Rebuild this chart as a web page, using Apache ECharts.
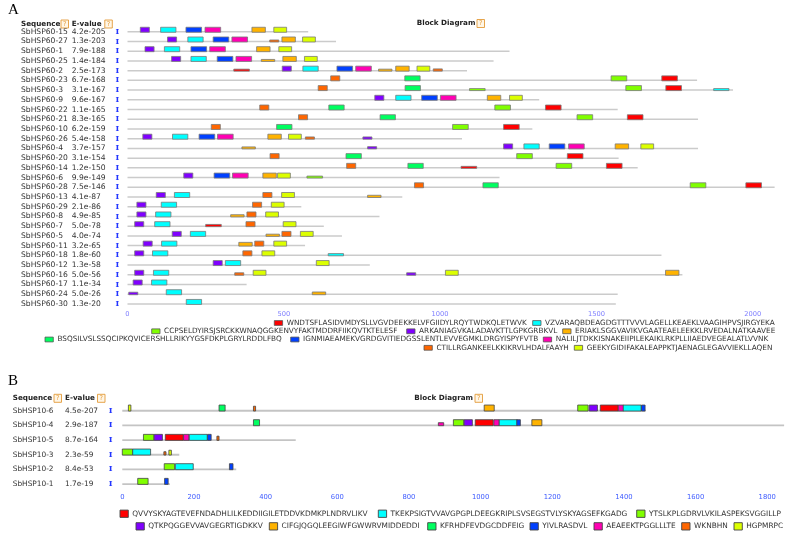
<!DOCTYPE html>
<html><head><meta charset="utf-8">
<script src="https://cdn.jsdelivr.net/npm/echarts@6/dist/echarts.min.js"></script>
<style>html,body{margin:0;padding:0;background:#fff}#c{width:787px;height:535px}</style>
</head><body><div id="c"></div>
<script>
const FONT = 'DejaVu Sans, Verdana, sans-serif';
const colors = ['#ff0000','#00ffff','#80ff00','#8000ff','#ffb300','#00ff60','#0040ff','#ff00b3','#ff6600','#dcff00'];

// ---------- Panel A ----------
const seqA = ['SbHSP60-15','SbHSP60-27','SbHSP60-1','SbHSP60-25','SbHSP60-2','SbHSP60-23','SbHSP60-3','SbHSP60-9','SbHSP60-22','SbHSP60-21','SbHSP60-10','SbHSP60-26','SbHSP60-4','SbHSP60-20','SbHSP60-14','SbHSP60-6','SbHSP60-28','SbHSP60-13','SbHSP60-29','SbHSP60-8','SbHSP60-7','SbHSP60-5','SbHSP60-11','SbHSP60-18','SbHSP60-12','SbHSP60-16','SbHSP60-17','SbHSP60-24','SbHSP60-30'];
const evalA = ['4.2e-205','1.3e-203','7.9e-188','1.4e-184','2.5e-173','6.7e-168','3.1e-167','9.6e-167','1.1e-165','8.3e-165','6.2e-159','5.4e-158','3.7e-157','3.1e-154','1.2e-150','9.9e-149','7.5e-146','4.1e-87','2.1e-86','4.9e-85','5.0e-78','4.0e-74','3.2e-65','1.8e-60','1.3e-58','5.0e-56','1.1e-34','5.0e-26','1.3e-20'];
const lenA = [578,667,1222,1171,1086,1822,1937,1317,1568,1825,1295,1070,1825,1571,1632,1190,2070,879,556,806,628,686,568,1708,775,1775,381,1568,1562];
const motifsA = ['WNDTSFLASIDVMDYSLLVGVDEEKKELVFGIIDYLRQYTWDKQLETWVK','VZVARAQBDEAGDGTTTVVVLAGELLKEAEKLVAAGIHPVSJIRGYEKA','CCPSELDYIRSJSRCKKWNAQGGKENVYFAKTMDDRFIIKQVTKTELESF','ARKANIAGVKALADAVKTTLGPKGRBKVL','ERIAKLSGGVAVIKVGAATEAELEEKKLRVEDALNATKAAVEE','BSQSILVSLSSQCIPKQVICERSHLLRIKYYGSFDKPLGRYLRDDLFBQ','IGNMIAEAMEKVGRDGVITIEDGSSLENTLEVVEGMKLDRGYISPYFVTB','NALILJTDKKISNAKEIIPILEKAIKLRKPLLIIAEDVEGEALATLVVNK','CTILLRGANKEELKKIKRVLHDALFAAYH','GEEKYGIDIFAKALEAPPKTJAENAGLEGAVVIEKLLAQEN'];
// [row, motif, start, relative height]
const hitsA = [
[0,4,41,1],[0,2,106,1],[0,7,187,1],[0,8,248,1],[0,5,398,1],[0,10,468,1],
[1,4,128,1],[1,2,193,1],[1,7,274,1],[1,8,334,1],[1,9,455,0.4],[1,5,494,1],[1,10,560,1],
[2,4,56,1],[2,2,118,1],[2,7,203,1],[2,8,263,1],[2,5,413,1],[2,10,484,1],
[3,4,141,1],[3,2,203,1],[3,7,287,1],[3,8,347,1],[3,5,428,0.4],[3,5,497,1],[3,10,566,1],
[4,1,340,0.4],[4,4,495,1],[4,2,561,1],[4,7,670,1],[4,8,730,1],[4,5,803,0.4],[4,5,858,1],[4,10,926,1],[4,9,978,0.45],
[5,9,650,1],[5,6,887,1],[5,3,1547,1],[5,1,1709,1],
[6,9,610,1],[6,6,888,1],[6,3,1094,0.4],[6,3,1594,1],[6,1,1722,1],[6,2,1875,0.4],
[7,4,791,1],[7,2,858,1],[7,7,941,1],[7,8,1001,1],[7,5,1151,1],[7,10,1222,1],
[8,9,423,1],[8,6,644,1],[8,3,1175,1],[8,1,1337,1],
[9,9,547,1],[9,6,808,1],[9,3,1438,1],[9,1,1599,1],
[10,9,268,1],[10,6,477,1],[10,3,1040,1],[10,1,1203,1],
[11,4,49,1],[11,2,144,1],[11,7,229,1],[11,8,288,1],[11,5,449,1],[11,10,515,1],[11,9,569,0.45],[11,4,753,0.45],
[12,5,366,0.4],[12,4,768,0.45],[12,4,1203,1],[12,2,1268,1],[12,7,1349,1],[12,8,1411,1],[12,5,1560,1],[12,10,1642,1],
[13,9,456,1],[13,6,699,1],[13,3,1245,1],[13,1,1407,1],
[14,9,701,1],[14,6,897,1],[14,1,1067,0.4],[14,3,1371,1],[14,1,1532,1],
[15,4,180,1],[15,7,277,1],[15,8,336,1],[15,5,433,1],[15,10,480,1],[15,3,574,0.4],
[16,9,918,1],[16,6,1137,1],[16,3,1800,1],[16,1,1978,1],
[17,4,92,1],[17,2,150,1],[17,9,433,1],[17,10,493,1],[17,5,768,0.45],
[18,4,30,1],[18,2,108,1],[18,9,400,1],[18,10,460,1],
[19,4,30,1],[19,2,90,1],[19,5,330,0.45],[19,9,382,1],[19,10,442,1],
[20,4,23,1],[20,2,87,1],[20,1,250,0.45],[20,9,379,1],[20,10,498,1],
[21,4,143,1],[21,2,201,1],[21,5,443,0.45],[21,9,494,1],[21,10,553,1],
[22,4,50,1],[22,2,109,1],[22,5,356,0.75],[22,9,407,1],[22,10,468,1],
[23,4,23,1],[23,2,80,1],[23,9,369,1],[23,10,430,1],[23,2,642,0.45],
[24,4,274,1],[24,2,313,1],[24,10,604,1],
[25,4,23,1],[25,2,83,1],[25,9,343,0.5],[25,10,402,1],[25,4,893,0.5],[25,10,1017,1],[25,5,1721,1],
[26,4,18,1],[26,2,77,1],
[27,4,4,0.5],[27,2,124,1],[27,5,591,0.55],
[28,2,188,1]
];
const ticksA = [0,500,1000,1500,2000];

// ---------- Panel B ----------
const seqB = ['SbHSP10-6','SbHSP10-4','SbHSP10-5','SbHSP10-3','SbHSP10-2','SbHSP10-1'];
const evalB = ['4.5e-207','2.9e-187','8.7e-164','2.3e-59','8.4e-53','1.7e-19'];
const lenB = [1461,1847,484,159,318,133];
const motifsB = ['QVVYSKYAGTEVEFNDADHLILKEDDIIGILETDDVKDMKPLNDRVLIKV','TKEKPSIGTVVAVGPGPLDEEGKRIPLSVSEGSTVLYSKYAGSEFKGADG','YTSLKPLGDRVLVKILASPEKSVGGILLP','QTKPQGGEVVAVGEGRTIGDKKV','CIFGJQGQLEEGIWFGWWRVMIDDEDDI','KFRHDFEVDGCDDFEIG','YIVLRASDVL','AEAEEKTPGGLLLTE','WKNBHN','HGPMRPC'];
const hitsB = [
[0,10,17,1],[0,6,270,1],[0,9,366,0.8],[0,5,1010,1],[0,3,1271,1],[0,4,1303,1],[0,1,1334,1],[0,8,1384,1],[0,2,1398,1],[0,7,1449,1],
[1,6,366,1],[1,8,882,0.5],[1,3,924,1],[1,4,954,1],[1,1,985,1],[1,8,1037,1],[1,2,1052,1],[1,7,1101,1],[1,5,1143,1],
[2,3,59,1],[2,4,89,1],[2,1,120,1],[2,8,171,1],[2,2,187,1],[2,7,238,1],[2,9,264,0.7],
[3,3,0,1],[3,2,29,1],[3,9,116,0.55],[3,10,130,0.8],
[4,3,117,1],[4,2,148,1],[4,7,299,1],
[5,3,43,1],[5,7,118,1]
];
const ticksB = [0,200,400,600,800,1000,1200,1400,1600,1800];

// ---------- layout ----------
const legendPosA = [[274.3,0],[532.7,0],[151.7,1],[406.7,1],[562.7,1],[45,2],[290.7,2],[543.3,2],[424,3],[574.3,3]];
const legendRowYA = [323,331.3,339.5,347.8];
const legendPosB = [[120,0],[378.3,0],[636.7,0],[136,1],[269.3,1],[427.7,1],[530,1],[594,1],[681.7,1],[734,1]];
const legendRowYB = [513.7,526.3];

function lineRender(color, w){
  return function(params, api){
    const r = api.value(1);
    const a = api.coord([0, r]), b = api.coord([api.value(0), r]);
    return {type:'line', shape:{x1:a[0], y1:a[1], x2:b[0], y2:b[1]}, style:{stroke:color, lineWidth:w}};
  };
}
function boxRender(motifs, full, below, stroke){
  return function(params, api){
    const s = api.value(0), r = api.value(1), m = api.value(2), f = api.value(3);
    const a = api.coord([s, r]), b = api.coord([s + motifs[m-1].length, r]);
    const h = full * f;
    return {type:'rect', shape:{x:a[0], y:a[1] + below - h, width:b[0]-a[0], height:h},
      style:{fill:colors[m-1], stroke:stroke, lineWidth:0.8}};
  };
}

const graphic = [];
function qIcon(x, y){
  graphic.push({type:'rect', shape:{x:x, y:y-4, width:7.5, height:8}, style:{fill:'#fff6e6', stroke:'#e39b3a', lineWidth:0.9}});
  graphic.push({type:'text', style:{x:x+3.75, y:y, text:'?', fontSize:6.5, fontFamily:FONT, fill:'#e39b3a', align:'center', verticalAlign:'middle'}});
}
function header(x, y, txt){
  graphic.push({type:'text', style:{x:x, y:y, text:txt, fontSize:7.2, fontWeight:'bold', fontFamily:FONT, fill:'#222', verticalAlign:'middle'}});
}
graphic.push({type:'text', style:{x:8, y:10, text:'A', fontSize:15, fontFamily:'Liberation Serif, DejaVu Serif, serif', fill:'#000', verticalAlign:'middle'}});
graphic.push({type:'text', style:{x:8, y:381.5, text:'B', fontSize:15, fontFamily:'Liberation Serif, DejaVu Serif, serif', fill:'#000', verticalAlign:'middle'}});
header(21, 24, 'Sequence'); qIcon(61, 24);
header(71.7, 24, 'E-value'); qIcon(104.8, 24);
header(416.7, 23.5, 'Block Diagram'); qIcon(477, 23.5);
header(12.7, 398.3, 'Sequence'); qIcon(54, 398.3);
header(65, 398.3, 'E-value'); qIcon(97.5, 398.3);
header(414.3, 398.3, 'Block Diagram'); qIcon(475, 398.3);

motifsA.forEach((m, i) => {
  const [x, r] = legendPosA[i], y = legendRowYA[r];
  graphic.push({type:'rect', shape:{x:x, y:y-2.4, width:8.3, height:4.8}, style:{fill:colors[i], stroke:'#555', lineWidth:0.8}});
  graphic.push({type:'text', style:{x:x+12.4, y:y, text:m, fontSize:7.3, fontFamily:FONT, fill:'#333', verticalAlign:'middle'}});
});
motifsB.forEach((m, i) => {
  const [x, r] = legendPosB[i], y = legendRowYB[r];
  graphic.push({type:'rect', shape:{x:x, y:y-3.6, width:8.3, height:7.3}, style:{fill:colors[i], stroke:'#444', lineWidth:0.9}});
  graphic.push({type:'text', style:{x:x+12.3, y:y, text:m, fontSize:7.4, fontFamily:FONT, fill:'#333', verticalAlign:'middle'}});
});

function yAx(gi, data, evals, margin, nW, eW, fs){
  return {gridIndex:gi, type:'category', inverse:true, data:data,
    axisLine:{show:false}, axisTick:{show:false}, splitLine:{show:false},
    axisLabel:{interval:0, align:'left', margin:margin,
      formatter:(v, i) => '{n|' + v + '}{e|' + evals[i] + '}{i|I}',
      rich:{n:{width:nW, fontSize:fs, color:'#333', fontFamily:FONT},
            e:{width:eW, fontSize:fs, color:'#333', fontFamily:FONT},
            i:{fontSize:8, color:'#2336ff', fontWeight:'bold', fontFamily:'DejaVu Serif, serif'}}}};
}

const option = {
  animation:false,
  backgroundColor:'#fff',
  grid:[{left:127.5, top:26.9, width:661.5, height:281.9},
        {left:122.3, top:403.4, width:659.3, height:88}],
  xAxis:[
    {gridIndex:0, type:'value', min:0, max:2100, interval:100, axisLine:{show:false}, splitLine:{show:false},
      axisTick:{length:1.5, lineStyle:{color:'#9a9aff'}}, axisLabel:{show:false}},
    {gridIndex:0, type:'value', min:0, max:2100, interval:500, position:'bottom', axisLine:{show:false}, splitLine:{show:false},
      axisTick:{length:3.5, lineStyle:{color:'#8f8fff'}},
      axisLabel:{margin:1.5, fontSize:6.7, fontFamily:FONT, color:'#7d7dff', formatter:v => ticksA.indexOf(v) >= 0 ? String(v) : ''}},
    {gridIndex:1, type:'value', min:0, max:1840, interval:40, axisLine:{show:false}, splitLine:{show:false},
      axisTick:{length:1.5, lineStyle:{color:'#4f6bff'}}, axisLabel:{show:false}},
    {gridIndex:1, type:'value', min:0, max:1840, interval:200, position:'bottom', axisLine:{show:false}, splitLine:{show:false},
      axisTick:{length:3.5, lineStyle:{color:'#4f6bff'}},
      axisLabel:{margin:2, fontSize:6.8, fontFamily:FONT, color:'#3f5cff', formatter:v => ticksB.indexOf(v) >= 0 ? String(v) : ''}}
  ],
  yAxis:[
    yAx(0, seqA, evalA, 127.5-21, 50.7, 43.8, 7.6),
    yAx(1, seqB, evalB, 122.3-12.7, 52.3, 43.8, 7.4)
  ],
  series:[
    {type:'custom', xAxisIndex:0, yAxisIndex:0, encode:{x:0, y:1}, data:lenA.map((l, i) => [l, i]), renderItem:lineRender('#cbcbcb', 1.5), silent:true},
    {type:'custom', xAxisIndex:0, yAxisIndex:0, encode:{x:0, y:1}, data:hitsA.map(h => [h[2], h[0], h[1], h[3]]), renderItem:boxRender(motifsA, 5, 0.5, '#7a7a7a'), silent:true},
    {type:'custom', xAxisIndex:2, yAxisIndex:1, encode:{x:0, y:1}, data:lenB.map((l, i) => [l, i]), renderItem:lineRender('#c4c4c4', 1.8), silent:true},
    {type:'custom', xAxisIndex:2, yAxisIndex:1, encode:{x:0, y:1}, data:hitsB.map(h => [h[2], h[0], h[1], h[3]]), renderItem:boxRender(motifsB, 6, 0.3, '#444'), silent:true}
  ],
  graphic:graphic
};
const chart = echarts.init(document.getElementById('c'), null, {renderer:'canvas'});
chart.setOption(option);
</script></body></html>
